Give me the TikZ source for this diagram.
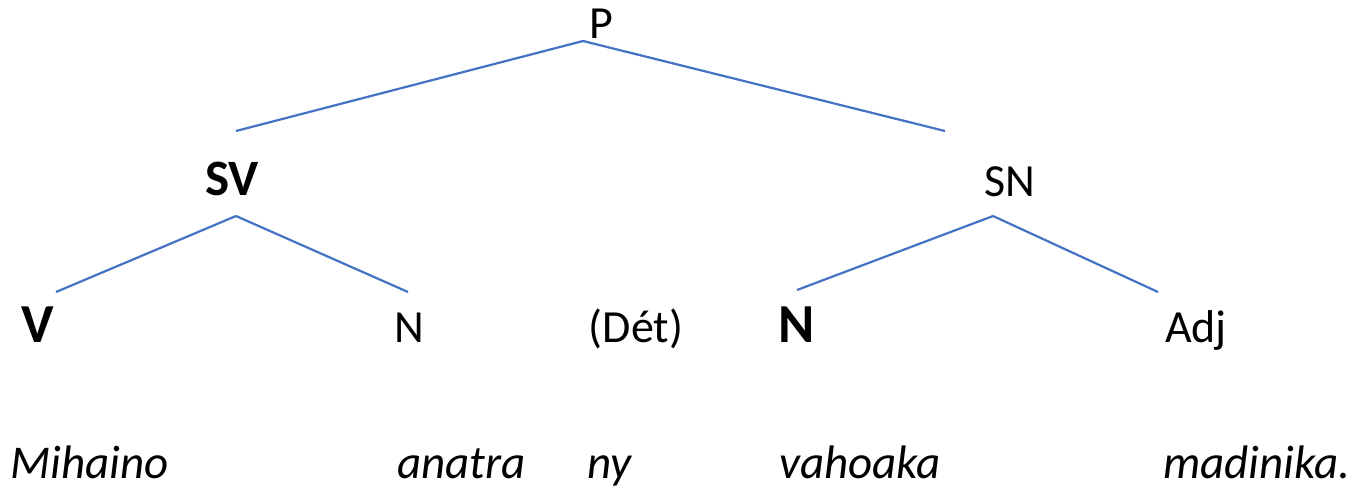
\documentclass[tikz,border=0pt]{standalone}
\usepackage{fontspec}
\setmainfont{Carlito}
\begin{document}
\begin{tikzpicture}[x=0.5pt,y=-0.5pt,
  lbl/.style={inner sep=0pt,anchor=base,font=\fontsize{23}{27}\selectfont},
  blbl/.style={inner sep=0pt,anchor=base,font=\fontsize{27.5}{32}\selectfont\bfseries},
  word/.style={inner sep=0pt,anchor=base west,font=\fontsize{23.5}{28}\selectfont\itshape},
  edge/.style={draw=edgeblue,line width=1.1pt}]
\definecolor{edgeblue}{HTML}{4472C4}
\useasboundingbox (0,0) rectangle (1356,489);
% labels
\node[lbl] (P) at (601,38) {P};
\node[inner sep=0pt,anchor=base,font=\fontsize{25.5}{30}\selectfont\bfseries] (SV) at (232,195) {SV};
\node[lbl] (SN) at (1010,196) {SN};
\node[blbl] (V) at (38,342) {V};
\node[lbl] (N1) at (409,342) {N};
\node[lbl] (Det) at (636,342) {(Dét)};
\node[blbl] (N2) at (797,342) {N};
\node[lbl] (Adj) at (1196,342) {Adj};
% words
\node[word] (w1) at (10,478) {Mihaino};
\node[word] (w2) at (397,478) {anatra};
\node[word] (w3) at (587,478) {ny};
\node[word] (w4) at (779,478) {vahoaka};
\node[word] (w5) at (1163,478) {madinika.};
% line endpoints
\coordinate (Pt) at (583,41);
\coordinate (SVu) at (236,131);
\coordinate (SNu) at (945,131);
\coordinate (SVd) at (236,216);
\coordinate (Vu) at (56,292);
\coordinate (N1u) at (408,292);
\coordinate (SNd) at (993,216);
\coordinate (N2u) at (797,290);
\coordinate (Adju) at (1158,292);
\draw[edge] (Pt) -- (SVu);
\draw[edge] (Pt) -- (SNu);
\draw[edge] (SVd) -- (Vu);
\draw[edge] (SVd) -- (N1u);
\draw[edge] (SNd) -- (N2u);
\draw[edge] (SNd) -- (Adju);
\end{tikzpicture}
\end{document}
